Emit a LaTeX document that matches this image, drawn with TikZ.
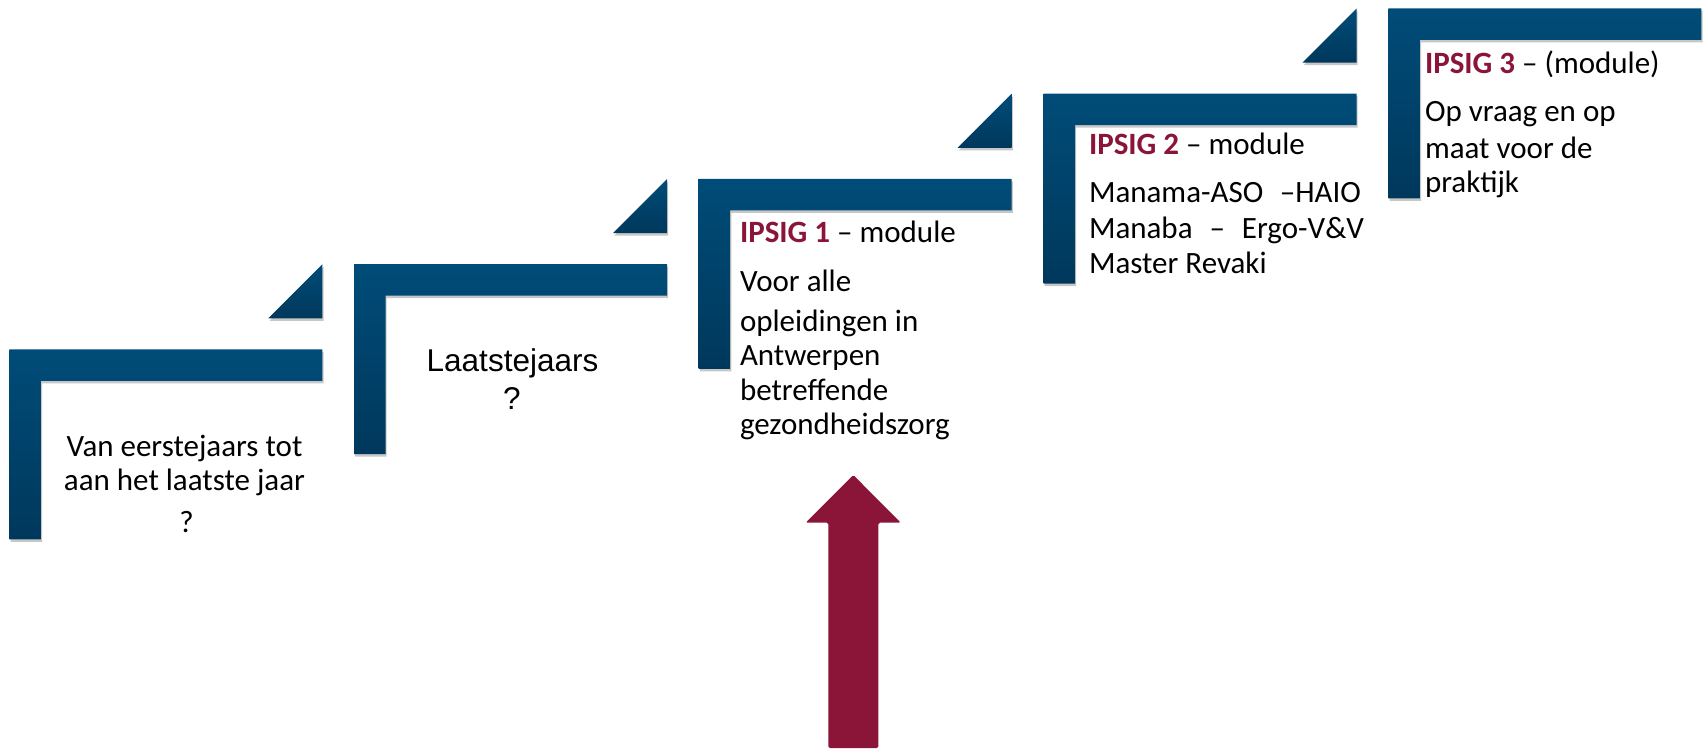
\documentclass[tikz,border=0pt]{standalone}
\usepackage{fontspec}
\setmainfont{Carlito}
\newfontfamily\arialf{Liberation Sans}
\usetikzlibrary{shadows}
\definecolor{stepTop}{RGB}{0,76,120}
\definecolor{stepBot}{RGB}{0,56,92}
\definecolor{ipsigred}{RGB}{138,21,56}
\tikzset{
  stepfill/.style={top color=stepTop, bottom color=stepBot, draw=none,
    drop shadow={shadow xshift=1.2pt, shadow yshift=-2.5pt, opacity=0.22, fill=black}},
  arrowfill/.style={fill=ipsigred, draw=none, rounded corners=1.5pt},
  txt/.style={inner sep=0pt, outer sep=0pt, text=black, font=\fontsize{31}{35}\selectfont},
  atxt/.style={inner sep=0pt, outer sep=0pt, text=black, font=\arialf\fontsize{31.5}{36}\selectfont}
}
\newcommand\stepshape[2]{%
  \path[stepfill] (#1,#2) -- ++(313,0) -- ++(0,31.5) -- ++(-281.5,0) -- ++(0,158.5) -- ++(-31.5,0) -- cycle;}
\newcommand\steptri[2]{% #1 = right x, #2 = apex y
  \path[stepfill] (#1,#2) -- ++(0,54) -- ++(-54,0) -- cycle;}
\begin{document}
\begin{tikzpicture}[x=1pt,y=-1pt]
\useasboundingbox (0,0) rectangle (1703,751);
% steps
\stepshape{9.3}{349.3}
\stepshape{354.0}{264.1}
\stepshape{698.6}{178.9}
\stepshape{1043.5}{93.6}
\stepshape{1388.3}{8.3}
% triangles
\steptri{322.3}{264.3}
\steptri{667.0}{179.1}
\steptri{1011.6}{93.8}
\steptri{1356.5}{8.6}
% arrow
\path[arrowfill] (853.3,475) -- (900.7,522.7) -- (878.3,522.7) -- (878.3,748)
  -- (828.3,748) -- (828.3,522.7) -- (805.7,522.7) -- cycle;
% step 1 text
\node[txt, anchor=base] (s1a) at (184.5,456.7) {Van eerstejaars tot};
\node[txt, anchor=base] (s1b) at (184.5,490.2) {aan het laatste jaar};
\node[txt, anchor=base] (s1c) at (186.5,532) {?};
% step 2 text
\node[atxt, anchor=base west] (s2a) at (426.7,371.7) {Laatstejaars};
\node[atxt, anchor=base] (s2b) at (512,409) {?};
% step 3 text
\node[txt, anchor=base west] (s3a) at (740,243) {\textcolor{ipsigred}{\bfseries IPSIG 1} – module};
\node[txt, anchor=base west] (s3b) at (740,291.7) {Voor alle};
\node[txt, anchor=base west] (s3c) at (740,331) {opleidingen in};
\node[txt, anchor=base west] (s3d) at (740,366) {Antwerpen};
\node[txt, anchor=base west] (s3e) at (740,400.5) {betreffende};
\node[txt, anchor=base west] (s3f) at (740,434.5) {gezondheidszorg};
% step 4 text
\node[txt, anchor=base west] (s4a) at (1089,155) {\textcolor{ipsigred}{\bfseries IPSIG 2} – module};
\node[txt, anchor=base west] (s4b) at (1089,203) {\makebox[272pt][s]{Manama-ASO –HAIO}};
\node[txt, anchor=base west] (s4c) at (1089,238.5) {\makebox[275pt][s]{Manaba – Ergo-V\&V}};
\node[txt, anchor=base west] (s4d) at (1089,273.5) {Master Revaki};
% step 5 text
\node[txt, anchor=base west] (s5a) at (1425,73.5) {\textcolor{ipsigred}{\bfseries IPSIG 3} – (module)};
\node[txt, anchor=base west] (s5b) at (1425,122) {Op vraag en op};
\node[txt, anchor=base west] (s5c) at (1425,159) {maat voor de};
\node[txt, anchor=base west] (s5d) at (1425,193) {praktijk};
\end{tikzpicture}
\end{document}
